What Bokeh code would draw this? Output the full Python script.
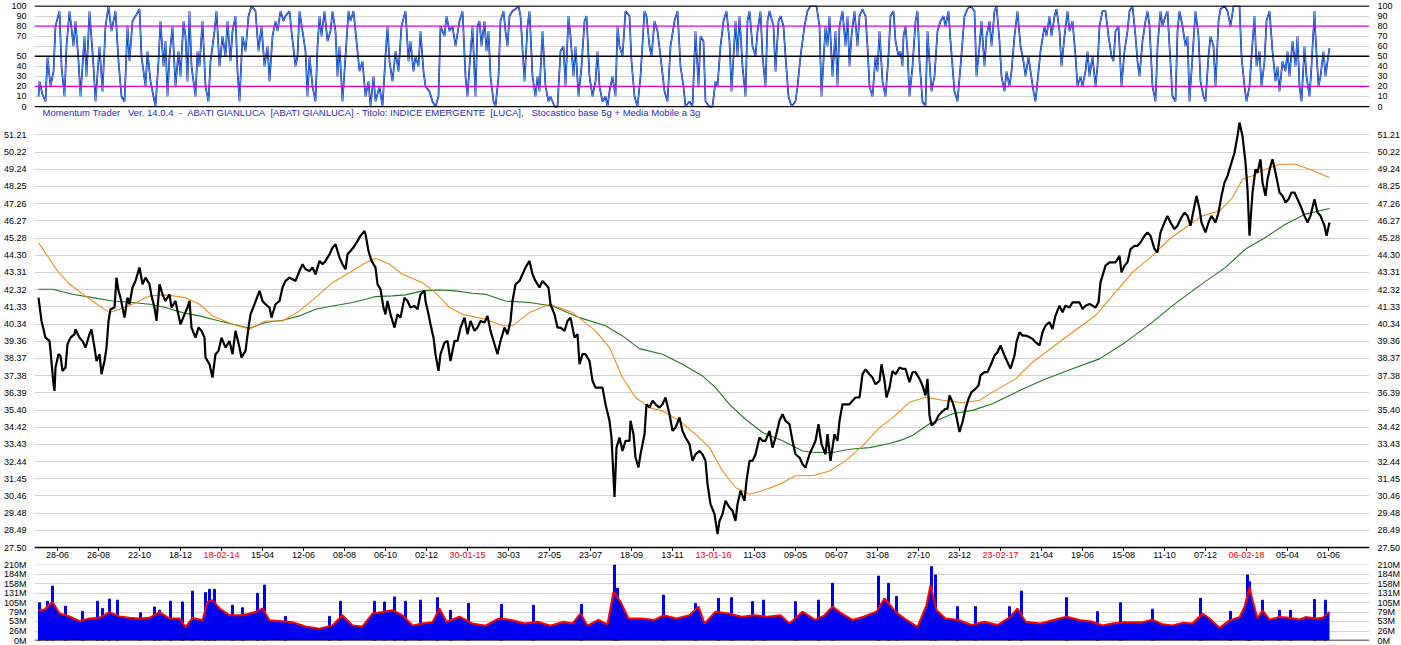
from bokeh.plotting import figure
from bokeh.layouts import column
from bokeh.models import Range1d, LinearAxis, FixedTicker, Span, Label, PrintfTickFormatter, ColumnDataSource
from bokeh.core.properties import value
from bokeh.embed import file_html
from bokeh.resources import INLINE

FONT = "Liberation Sans"
NB = "\u00a0"

# ---------------- data ----------------
title_text = ("Momentum Trader" + NB * 3 + "Ver. 14.0.4" + NB * 2 + "-" + NB * 2 + "ABATI GIANLUCA" + NB * 2 +
              "[ABATI GIANLUCA] - Titolo: INDICE EMERGENTE" + NB * 2 + "[LUCA]," + NB * 3 +
              "Stocastico base 5g + Media Mobile a 3g")

tick_days = [19, 60, 101, 142, 183, 224, 265, 306, 347, 388, 429, 470, 511, 552, 593, 634,
             675, 716, 757, 798, 839, 880, 921, 962, 1003, 1044, 1085, 1126, 1167, 1208, 1249, 1290]
tick_labels = ["28-06", "26-08", "22-10", "18-12", "18-02-14", "15-04", "12-06", "08-08", "06-10", "02-12",
               "30-01-15", "30-03", "27-05", "23-07", "18-09", "13-11", "13-01-16", "11-03", "09-05", "06-07",
               "31-08", "27-10", "23-12", "23-02-17", "21-04", "19-06", "15-08", "11-10", "07-12", "06-02-18",
               "05-04", "01-06"]

price_ticks = [27.50, 28.49, 29.48, 30.46, 31.45, 32.44, 33.43, 34.42, 35.40, 36.39, 37.38, 38.37, 39.36,
               40.34, 41.33, 42.32, 43.31, 44.30, 45.28, 46.27, 47.26, 48.25, 49.24, 50.22, 51.21]
stoch_ticks = [0, 10, 20, 30, 40, 50, 60, 70, 80, 90, 100]
vol_ticks = [0, 26, 53, 79, 105, 131, 158, 184, 210]

price_days = [
    0, 3, 7, 11, 12, 15, 16, 17, 20, 22, 24, 27, 29, 32, 36, 37, 41, 44, 47, 51,
    53, 56, 58, 61, 63, 66, 68, 70, 72, 76, 78, 80, 82, 86, 89, 91, 94, 97, 101, 104,
    107, 111, 113, 116, 118, 121, 124, 127, 131, 133, 137, 139, 142, 146, 149, 151, 153, 157, 160, 163,
    166, 167, 171, 174, 177, 180, 183, 187, 191, 194, 197, 201, 203, 207, 210, 212, 216, 221, 224, 227,
    231, 233, 237, 241, 244, 247, 251, 254, 257, 261, 264, 267, 271, 274, 277, 281, 284, 287, 291, 294,
    297, 301, 304, 307, 309, 312, 316, 319, 322, 326, 327, 330, 333, 337, 339, 342, 345, 347, 349, 352,
    356, 359, 362, 366, 369, 372, 376, 379, 382, 386, 387, 390, 392, 395, 397, 400, 402, 406, 409, 412,
    416, 419, 422, 426, 429, 432,
    436, 439, 442, 446, 449, 452, 456, 459, 462, 466, 469, 472, 474, 477, 481, 484, 487, 491, 494, 497,
    501, 504, 507, 510, 512, 516, 519, 522, 526, 529, 532, 536, 539, 541, 544, 547, 551, 554, 557, 561,
    564, 567, 571, 573, 576, 578, 581, 584, 587, 591, 592, 595, 597, 600, 602, 606, 608, 611, 614, 617,
    621, 624, 627, 631, 634, 637, 641, 644, 647, 651, 654, 657, 661, 664, 667, 669, 672, 676, 679, 681,
    684, 687, 691, 694, 697, 699, 702, 706, 708, 711, 714, 717, 721, 724, 727, 731, 734, 737, 741, 744,
    747, 751, 754, 757, 761, 764, 767, 771, 774, 777, 780, 783, 787, 789, 792, 796, 799, 801, 804, 807,
    811, 814, 817, 821, 824, 827, 831, 834, 837, 841, 843, 846, 848, 851, 854, 857, 861,
    864, 867, 871, 874, 877, 881, 884, 887, 889, 891, 893, 897, 900, 903, 907, 909, 911, 914, 917, 919,
    921, 924, 927, 930, 933, 937, 940, 942, 946, 949, 952, 956, 959, 962, 966, 969, 972, 976, 978, 981,
    984, 987, 991, 994, 997, 1001, 1004, 1007, 1011, 1014, 1017, 1021, 1024, 1027, 1031, 1034, 1037, 1041, 1044, 1047,
    1051, 1054, 1057, 1060, 1062, 1065, 1067, 1071, 1074, 1077, 1081, 1083, 1086, 1089, 1092, 1096, 1099, 1102, 1106, 1109,
    1112, 1116, 1119, 1122, 1126, 1129, 1132, 1136, 1139, 1142, 1146, 1149, 1152, 1156, 1158, 1161, 1163, 1167, 1170, 1173,
    1177, 1180, 1183, 1186, 1189, 1192, 1196, 1199, 1201, 1204, 1207, 1209, 1211, 1214, 1217, 1219, 1222, 1224, 1227, 1229,
    1232, 1234, 1237, 1241, 1244, 1247, 1250, 1253, 1256, 1259, 1262, 1266, 1269, 1272, 1276, 1279, 1282, 1286, 1288, 1291]
price_close = [
    41.86, 40.52, 39.56, 39.37, 38.80, 36.88, 36.50, 37.84, 38.61, 38.51, 37.65, 37.84, 39.18, 39.56, 39.76, 40.04, 39.56, 39.37, 38.99, 39.76,
    40.04, 38.99, 38.22, 38.61, 37.46, 38.22, 38.99, 40.52, 41.19, 41.29, 43.01, 42.25, 41.86, 40.71, 41.86, 41.48, 42.44, 42.82, 43.59, 42.63,
    43.01, 42.63, 41.96, 41.29, 40.52, 42.63, 42.05, 41.67, 42.05, 41.29, 41.67, 41.10, 40.33, 40.90, 41.29, 41.67, 40.14, 39.56, 40.14, 39.95,
    39.56, 38.42, 38.03, 37.27, 38.61, 38.80, 39.56, 38.99, 39.37, 38.61, 39.95, 38.99, 38.42, 38.80, 40.14, 40.90, 41.48, 42.25, 41.67, 41.48,
    41.29, 40.71, 41.48, 41.67, 42.44, 42.82, 43.01, 42.92, 42.82, 43.39, 43.78, 43.49, 43.39, 43.59, 43.20, 43.97, 43.78, 43.97, 44.35, 44.73,
    44.93, 44.16, 43.78, 43.49, 44.35, 44.54, 44.83, 45.12, 45.41, 45.69, 45.50, 44.54, 43.97, 43.59, 42.63, 42.34, 41.29, 40.90, 41.67, 40.90,
    40.14, 40.90, 40.71, 41.86, 41.67, 41.29, 41.38, 41.19, 42.05, 42.25, 41.67, 40.90, 40.33, 39.56, 38.61, 37.65, 38.61, 39.27, 39.37, 38.22,
    39.37, 39.37, 40.14, 40.71, 39.76, 40.52,
    39.95, 40.14, 40.52, 40.43, 40.81, 39.95, 39.18, 38.61, 39.37, 40.14, 39.76, 40.52, 41.67, 42.63, 42.82, 43.20, 43.59, 43.97, 43.20, 42.82,
    42.44, 42.82, 42.63, 42.44, 41.48, 40.90, 40.14, 40.14, 39.95, 40.52, 40.71, 39.56, 39.76, 38.03, 38.61, 38.61, 38.22, 37.08, 36.69, 36.69,
    36.69, 35.73, 34.78, 33.82, 30.40, 33.24, 33.82, 33.05, 33.63, 33.63, 34.78, 34.01, 32.67, 32.10, 32.86, 34.01, 35.73, 35.54, 35.93, 35.73,
    35.54, 35.73, 36.12, 35.16, 34.20, 34.39, 34.97, 34.20, 33.82, 33.44, 32.48, 32.86, 33.05, 32.86, 32.48, 31.14, 29.99, 29.42, 28.27, 29.03,
    29.42, 30.18, 29.80, 29.61, 29.03, 29.99, 30.76, 30.18, 31.33, 32.48, 32.48, 32.86, 33.82, 33.63, 33.63, 34.20, 33.24, 33.82, 34.78, 35.16,
    34.78, 34.59, 33.63, 32.86, 32.67, 32.29, 32.10, 32.86, 33.24, 33.63, 34.59, 33.44, 32.86, 34.01, 32.48, 34.01, 33.63, 34.78, 35.73, 35.73,
    35.73, 35.93, 36.12, 36.12, 37.46, 37.74, 37.46, 37.27, 36.88, 37.08, 38.03, 37.08, 36.12, 36.69, 37.65, 37.46, 37.84,
    37.77, 37.77, 37.00, 37.58, 37.58, 37.19, 36.81, 36.24, 37.19, 35.09, 34.52, 34.71, 35.09, 35.28, 35.47, 35.47, 36.24, 35.86, 35.28, 34.71,
    34.14, 34.71, 35.47, 36.05, 36.43, 36.62, 36.81, 37.39, 37.58, 37.58, 37.96, 38.53, 38.72, 39.11, 38.53, 38.15, 37.77, 38.53, 39.30, 39.87,
    39.68, 39.68, 39.59, 39.49, 39.30, 39.11, 39.87, 40.25, 40.45, 40.06, 40.83, 41.40, 41.02, 41.40, 41.29, 41.59, 41.59, 41.59, 41.21, 41.40,
    41.50, 41.40, 41.29, 41.59, 42.74, 43.31, 43.70, 43.89, 43.89, 43.89, 44.27, 43.31, 43.70, 43.89, 44.65, 44.84, 44.84, 45.03, 45.42, 45.61,
    45.42, 44.65, 44.46, 45.61, 46.18, 46.56, 46.18, 45.80, 45.99, 46.37, 46.75, 46.56, 45.99, 47.14, 47.71, 46.95, 46.18, 45.61, 46.18, 46.56,
    46.18, 46.75, 47.71, 48.47, 48.86, 49.43, 50.19, 51.15, 51.92, 51.15, 49.62, 48.09, 45.42, 47.90, 49.24, 49.05, 49.81, 48.47, 47.71, 48.66,
    49.43, 49.81, 49.05, 47.90, 47.71, 47.33, 47.52, 47.90, 47.90, 47.52, 47.14, 46.56, 46.18, 46.56, 47.52, 46.75, 46.56, 45.99, 45.42, 46.18]

ma_fast_days = [0, 19, 31, 47, 61, 71, 81, 94, 111, 127, 147, 161, 174, 194, 211, 227, 244, 261, 277, 294,
                311, 327, 337, 351, 364, 384, 397, 411, 424, 447, 464, 474, 491, 511, 534, 557, 571, 584, 597, 611,
                624, 641, 657, 671, 684, 697, 711, 724, 741, 757, 774, 791, 807, 824, 841, 854, 871, 887, 904, 924,
                941, 954, 977, 994, 1014, 1034, 1057, 1074, 1094, 1114, 1131, 1147, 1164, 1181, 1194, 1204, 1214, 1227, 1241, 1257,
                1271, 1291]
ma_fast = [45.02, 43.39, 42.63, 41.96, 41.38, 41.00, 41.19, 41.48, 41.96, 42.02, 41.86, 41.48, 40.81, 40.33, 40.04, 40.52, 40.52, 41.10, 41.86, 42.72,
           43.30, 43.87, 44.12, 43.78, 43.20, 42.72, 42.15, 41.29, 40.90, 40.62, 40.24, 40.24, 41.00, 41.48, 41.00, 39.95, 38.99, 37.27, 36.12, 35.54,
           35.35, 34.78, 34.01, 33.24, 31.90, 30.95, 30.56, 30.76, 31.14, 31.62, 31.62, 31.90, 32.48, 33.34, 34.39, 34.95, 35.85, 36.14, 35.96, 35.82,
           35.96, 36.43, 37.19, 38.15, 39.01, 39.87, 40.83, 41.97, 43.31, 44.27, 45.23, 45.89, 46.56, 46.85, 47.61, 48.66, 48.86, 49.24, 49.53, 49.53,
           49.24, 48.76]

ma_slow_days = [0, 14, 34, 54, 74, 94, 111, 127, 144, 161, 181, 201, 211, 227, 244, 261, 277, 294, 314, 327,
                337, 354, 367, 384, 401, 417, 434, 447, 467, 491, 514, 541, 567, 584, 601, 624, 644, 664, 677, 691,
                707, 724, 744, 764, 777, 794, 811, 831, 851, 864, 874, 891, 914, 934, 954, 981, 1007, 1034, 1061, 1087,
                1114, 1134, 1161, 1187, 1207, 1227, 1247, 1267, 1291]
ma_slow = [42.34, 42.34, 42.05, 41.86, 41.67, 41.58, 41.48, 41.29, 41.00, 40.81, 40.52, 40.24, 40.10, 40.43, 40.56, 40.81, 41.19, 41.38, 41.58, 41.77,
           41.92, 41.96, 42.02, 42.25, 42.30, 42.25, 42.11, 42.05, 41.67, 41.58, 41.38, 40.71, 40.24, 39.66, 38.93, 38.61, 38.03, 37.36, 36.69, 35.73,
           34.87, 34.11, 33.63, 33.05, 32.96, 32.96, 33.15, 33.24, 33.48, 33.70, 33.94, 34.61, 35.19, 35.38, 35.76, 36.52, 37.19, 37.77, 38.34, 39.30,
           40.45, 41.40, 42.55, 43.60, 44.65, 45.32, 46.08, 46.66, 46.98]

stoch_days = [
    0, 1, 4, 7, 9, 12, 15, 17, 21, 23, 26, 28, 31, 35, 37, 40, 42, 46, 48, 51,
    55, 57, 61, 64, 67, 70, 73, 77, 80, 83, 86, 89, 91, 94, 97, 101, 103, 107, 109, 112,
    115, 117, 120, 122, 125, 127, 129, 131, 134, 137, 140, 142, 145, 147, 149, 151, 153, 157, 159, 161,
    164, 167, 170, 172, 176, 178, 181, 184, 187, 189, 192, 194, 197, 199, 201, 204, 207, 210, 213, 217,
    220, 223, 226, 229, 231, 234, 237, 239, 242, 245, 247, 251, 253, 257, 259, 261, 264, 267, 269, 271,
    274, 277, 279, 281, 283, 286, 289, 292, 294, 297, 299, 301, 304, 307, 310, 312, 315, 318, 321, 324,
    327, 330, 332, 335, 337, 341, 344, 347, 349, 351, 354, 357, 360, 363, 367, 370, 372, 375, 377, 380,
    382, 385, 387, 391, 394, 397, 400, 402, 406, 408, 411, 414, 417, 421, 424, 427, 429, 431, 434,
    437, 439, 441, 443, 446, 448, 450, 452, 455, 457, 460, 462, 465, 467, 469, 471, 474, 477, 480, 482,
    486, 489, 491, 494, 497, 499, 501, 504, 507, 510, 512, 516, 519, 522, 525, 527, 530, 532, 535, 537,
    540, 543, 546, 548, 551, 554, 557, 559, 561, 564, 567, 569, 571, 574, 577, 579, 581, 584, 587, 591,
    593, 596, 599, 602, 606, 608, 611, 613, 616, 619, 622, 626, 629, 632, 636, 639, 642, 645, 647, 651,
    654, 657, 660, 662, 665, 667, 671, 674, 677, 679, 682, 685, 688, 691, 693, 697, 699, 701, 704, 707,
    709, 711, 714, 717, 719, 722, 724, 727, 729, 731, 735, 737, 740, 742, 745, 747, 750, 753, 757, 759,
    762, 766, 769, 772, 776, 778, 781, 783, 787, 789, 791, 794, 797, 799, 801, 804, 807, 809, 811, 813,
    816, 819, 821, 824, 827, 829, 831, 834, 837, 839, 841, 844, 847, 850, 852, 855, 857, 860, 862, 864,
    865, 867, 869, 871, 874, 877, 879, 881, 884, 887, 889, 891, 893, 896, 899, 902, 905, 907, 910, 912,
    916, 919, 922, 926, 929, 932, 936, 938, 941, 943, 946, 948, 951, 953, 956, 958, 961, 963, 966, 968,
    971, 973, 976, 979, 982, 985, 987, 990, 992, 995, 997, 1000, 1002, 1006, 1008, 1011, 1013, 1016, 1018, 1021,
    1023, 1026, 1029, 1031, 1034, 1037, 1039, 1042, 1044, 1047, 1049, 1051, 1054, 1057, 1059, 1061, 1064, 1067, 1070, 1073,
    1075, 1077, 1080, 1083, 1086, 1089, 1091, 1094, 1097, 1099, 1101, 1104, 1107, 1109, 1111, 1114, 1117, 1119, 1122, 1124,
    1127, 1129, 1131, 1134, 1137, 1139, 1141, 1144, 1147, 1149, 1151, 1154, 1157, 1160, 1162, 1165, 1167, 1170, 1172, 1175,
    1177, 1180, 1182, 1186, 1189, 1192, 1195, 1197, 1201, 1203, 1206, 1208, 1211, 1213, 1216, 1218, 1221, 1223, 1226, 1228,
    1231, 1234, 1237, 1239, 1241, 1244, 1247, 1249, 1251, 1254, 1257, 1259, 1261, 1263, 1266, 1268, 1271, 1273, 1276, 1277,
    1280, 1282, 1285, 1287, 1289, 1291]
stoch_k = [
    10, 25, 12, 5, 50, 20, 35, 80, 95, 40, 10, 60, 95, 60, 85, 45, 10, 70, 30, 95,
    40, 5, 60, 15, 80, 100, 75, 95, 45, 10, 5, 80, 45, 85, 90, 97, 50, 20, 55, 25,
    10, 0, 45, 85, 40, 65, 10, 50, 80, 20, 55, 30, 85, 70, 25, 95, 40, 10, 55, 40,
    85, 20, 5, 45, 75, 95, 40, 70, 50, 85, 45, 75, 90, 35, 5, 70, 55, 90, 100, 95,
    55, 80, 40, 60, 25, 70, 85, 75, 95, 85, 90, 95, 75, 40, 50, 95, 75, 55, 10, 50,
    20, 5, 60, 90, 70, 95, 65, 75, 95, 75, 30, 60, 5, 50, 95, 85, 95, 65, 35, 45,
    10, 25, 0, 30, 5, 20, 0, 50, 80, 45, 25, 55, 35, 80, 95, 45, 65, 35, 50, 40,
    75, 35, 20, 15, 5, 0, 10, 80, 70, 90, 75, 80, 60, 85, 95, 30, 10, 40, 80,
    10, 80, 85, 60, 85, 55, 75, 30, 5, 0, 30, 85, 95, 75, 60, 90, 95, 97, 100, 90,
    25, 80, 95, 30, 10, 30, 15, 75, 20, 5, 10, 0, 0, 55, 60, 20, 90, 70, 30, 60,
    10, 40, 85, 90, 30, 10, 25, 55, 20, 5, 10, 0, 15, 30, 10, 80, 60, 50, 95, 90,
    45, 10, 0, 30, 95, 90, 60, 50, 85, 75, 50, 15, 5, 60, 85, 95, 40, 20, 0, 5,
    0, 75, 20, 70, 65, 5, 0, 0, 25, 20, 60, 85, 95, 65, 15, 85, 50, 90, 40, 10,
    85, 95, 60, 50, 75, 95, 50, 20, 85, 95, 80, 35, 85, 90, 80, 50, 10, 0, 5, 20,
    50, 80, 95, 100, 100, 100, 80, 10, 80, 60, 90, 30, 75, 20, 80, 95, 60, 90, 40, 70,
    95, 60, 90, 97, 90, 60, 20, 10, 50, 35, 75, 25, 10, 50, 90, 95, 65, 50, 55, 40,
    70, 80, 55, 10, 40, 85, 95, 45, 5, 0, 75, 45, 15, 30, 75, 85, 90, 80, 95, 65,
    15, 5, 40, 90, 97, 100, 95, 30, 60, 85, 40, 70, 85, 60, 95, 100, 65, 30, 15, 35,
    20, 35, 70, 95, 60, 45, 30, 50, 35, 15, 5, 35, 55, 80, 70, 90, 70, 90, 97, 75,
    40, 70, 95, 75, 85, 50, 20, 30, 20, 35, 55, 30, 50, 20, 40, 80, 95, 95, 70, 50,
    45, 75, 80, 20, 55, 75, 95, 100, 70, 45, 30, 65, 85, 95, 80, 20, 5, 60, 95, 80,
    90, 95, 60, 10, 5, 75, 95, 80, 60, 70, 5, 50, 95, 70, 25, 10, 5, 50, 70, 60,
    20, 85, 97, 100, 95, 80, 100, 100, 100, 50, 20, 5, 20, 50, 90, 40, 55, 20, 45, 85,
    95, 55, 25, 40, 15, 45, 35, 55, 30, 65, 40, 70, 20, 5, 60, 30, 10, 40, 95, 70,
    20, 30, 55, 30, 45, 58]

vol_days = [0, 6, 14, 21, 31, 41, 51, 61, 71, 81, 91, 101, 111, 121, 131, 141, 147, 154, 164, 169,
            174, 181, 191, 204, 217, 224, 231, 241, 254, 267, 281, 294, 304, 314, 324, 334, 344, 354, 364, 374,
            384, 394, 401, 408, 421, 434, 447, 460, 473, 486, 499, 512, 525, 534, 542, 549, 560, 569, 575, 582,
            590, 603, 616, 625, 638, 651, 660, 666, 677, 690, 703, 716, 729, 742, 751, 764, 777, 786, 794, 803,
            814, 825, 838, 846, 857, 868, 879, 888, 892, 898, 907, 920, 933, 946, 959, 972, 979, 987, 1002, 1015,
            1028, 1041, 1054, 1064, 1074, 1084, 1094, 1104, 1114, 1124, 1134, 1144, 1154, 1164, 1171, 1181, 1191, 1201, 1206, 1211,
            1214, 1219, 1224, 1231, 1241, 1251, 1261, 1267, 1277, 1284, 1291]
vol_avg = [84, 86, 107, 75, 67, 54, 61, 63, 79, 67, 63, 61, 63, 79, 61, 61, 37, 63, 56, 107,
           112, 89, 70, 70, 79, 89, 56, 54, 51, 39, 33, 42, 70, 42, 39, 75, 79, 84, 70, 42,
           47, 51, 89, 52, 66, 47, 41, 61, 57, 47, 52, 41, 52, 47, 75, 41, 57, 45, 135, 108,
           61, 61, 57, 70, 61, 70, 94, 47, 80, 75, 66, 70, 66, 70, 47, 80, 57, 70, 94, 75,
           57, 66, 80, 117, 80, 57, 38, 98, 154, 84, 61, 57, 43, 52, 43, 66, 89, 52, 47, 57,
           66, 57, 52, 42, 47, 51, 51, 51, 58, 45, 42, 49, 47, 75, 61, 35, 56, 65, 93, 149,
           112, 61, 84, 58, 65, 63, 58, 65, 61, 63, 79]

spike_days = [1, 9, 14, 27, 44, 59, 64, 71, 79, 102, 116, 121, 132, 144, 154, 167, 171, 176, 194, 204,
              219, 226, 247, 291, 302, 336, 346, 356, 367, 382, 399, 412,
              430, 463, 495, 543, 576, 579, 625, 657, 680, 693, 714, 725, 757, 780, 794, 840, 850, 858,
              893, 897, 919, 937, 971, 983, 1028, 1059,
              1082, 1114, 1162, 1192, 1209, 1211, 1224, 1241, 1252, 1276, 1287]
spike_vol = [105, 109, 151, 95, 81, 109, 89, 115, 112, 77, 93, 84, 109, 107, 137, 133, 142, 142, 98, 91,
             131, 154, 67, 67, 109, 109, 107, 121, 109, 112, 119, 84,
             103, 100, 98, 100, 210, 145, 126, 103, 117, 119, 108, 112, 108, 112, 159, 179, 159, 122,
             205, 182, 94, 94, 94, 137, 119, 80,
             105, 87, 117, 81, 182, 163, 112, 84, 84, 114, 112]

# ---------------- styling helpers ----------------
GRID = "#D4D4D4"
FRAME_W = 1335
BL, BR = 32, 34
X0, X1 = -4, 1331
x_rng = Range1d(X0, X1)
PX_PER_PRICE = 17.40          # vertical scale of the price panel (pixels per price unit)
PRICE_LO = 27.50 - 12 / PX_PER_PRICE
PRICE_HI = 27.50 + 429 / PX_PER_PRICE


def y_axis(ticks, formatter=None, overrides=None):
    ax = LinearAxis(ticker=FixedTicker(ticks=ticks))
    ax.axis_line_color = None
    ax.major_tick_line_color = None
    ax.minor_tick_line_color = None
    ax.major_label_text_font = FONT
    ax.major_label_text_font_size = "9px"
    ax.major_label_text_color = "#000000"
    ax.major_label_standoff = 2
    if formatter is not None:
        ax.formatter = formatter
    if overrides:
        ax.major_label_overrides = overrides
    return ax


def base(frame_h, y_rng, top, bottom):
    p = figure(frame_width=FRAME_W, frame_height=frame_h, x_range=x_rng, y_range=y_rng,
               x_axis_location=None, y_axis_location=None, output_backend="svg",
               toolbar_location=None, min_border_left=BL, min_border_right=BR,
               min_border_top=top, min_border_bottom=bottom)
    p.outline_line_color = None
    p.background_fill_color = "white"
    p.border_fill_color = "white"
    p.xgrid.visible = False
    return p


# ---------------- stochastic panel (title band inside its lower edge) ----------------
p1 = base(113, Range1d(-11.9, 100.5), 5, 0)
p1.add_layout(y_axis(stoch_ticks, overrides={60: ""}), "left")
p1.add_layout(y_axis(stoch_ticks), "right")
p1.ygrid.ticker = FixedTicker(ticks=[10, 30, 40, 60, 70, 90])
p1.ygrid.grid_line_color = GRID
for lv, col in [(0, "black"), (50, "black"), (100, "black"), (20, "#E000E0"), (80, "#E000E0")]:
    p1.add_layout(Span(location=lv, dimension="width", line_color=col, line_width=1.3))
p1.line(stoch_days, stoch_k, line_color="#0000B8", line_width=1.7)
p1.line(stoch_days, stoch_k, line_color="#5CD2F8", line_width=0.7)
p1.add_layout(Label(x=X0, y=-6.3, x_offset=8, text=title_text, text_font=FONT, text_font_size="9.5px",
                    text_color="#2A2ACC", text_baseline="middle", text_align="left"))

# ---------------- price panel (date band inside its lower edge) ----------------
p2 = base(441, Range1d(PRICE_LO, PRICE_HI), 0, 0)
p2.add_layout(y_axis(price_ticks, PrintfTickFormatter(format="%.2f")), "left")
p2.add_layout(y_axis(price_ticks, PrintfTickFormatter(format="%.2f")), "right")
p2.ygrid.ticker = FixedTicker(ticks=price_ticks[1:])
p2.ygrid.grid_line_color = GRID

p2.line(ma_slow_days, ma_slow, line_color="#1E7A1E", line_width=1.1)
p2.line(ma_fast_days, ma_fast, line_color="#F08C1E", line_width=1.1)
p2.line(price_days, price_close, line_color="black", line_width=2.2)

p2.add_layout(Span(location=27.50, dimension="width", line_color="black", line_width=1.6))
p2.segment(x0=tick_days, y0=27.50, x1=tick_days, y1=27.50 - 3.5 / PX_PER_PRICE, line_color="black", line_width=1)
lab_src = ColumnDataSource(data=dict(
    x=tick_days, text=tick_labels,
    color=["#FF0000" if len(t) > 5 else "#000000" for t in tick_labels]))
p2.text(x="x", y=27.50 - 7 / PX_PER_PRICE, text="text", source=lab_src, text_color="color",
        text_align="center", text_baseline="middle", text_font=value(FONT), text_font_size="9px")

# ---------------- volume panel ----------------
p3 = base(76, Range1d(0, 211), 5, 5)
vol_fmt = {v: f"{v}M" for v in vol_ticks}
p3.add_layout(y_axis(vol_ticks, overrides=vol_fmt), "left")
p3.add_layout(y_axis(vol_ticks, overrides=vol_fmt), "right")
p3.ygrid.ticker = FixedTicker(ticks=vol_ticks[1:])
p3.ygrid.grid_line_color = GRID
p3.varea(x=vol_days, y1=0, y2=vol_avg, fill_color="#0000F0")
p3.vbar(x=spike_days, top=spike_vol, width=2, fill_color="#0000F0", line_color="#0000F0")
p3.line(vol_days, vol_avg, line_color="#FF0000", line_width=2)
p3.add_layout(Span(location=0, dimension="width", line_color="black", line_width=1.5))

page = column(p1, p2, p3, spacing=0)
open("out.html", "w").write(file_html(page, INLINE))
